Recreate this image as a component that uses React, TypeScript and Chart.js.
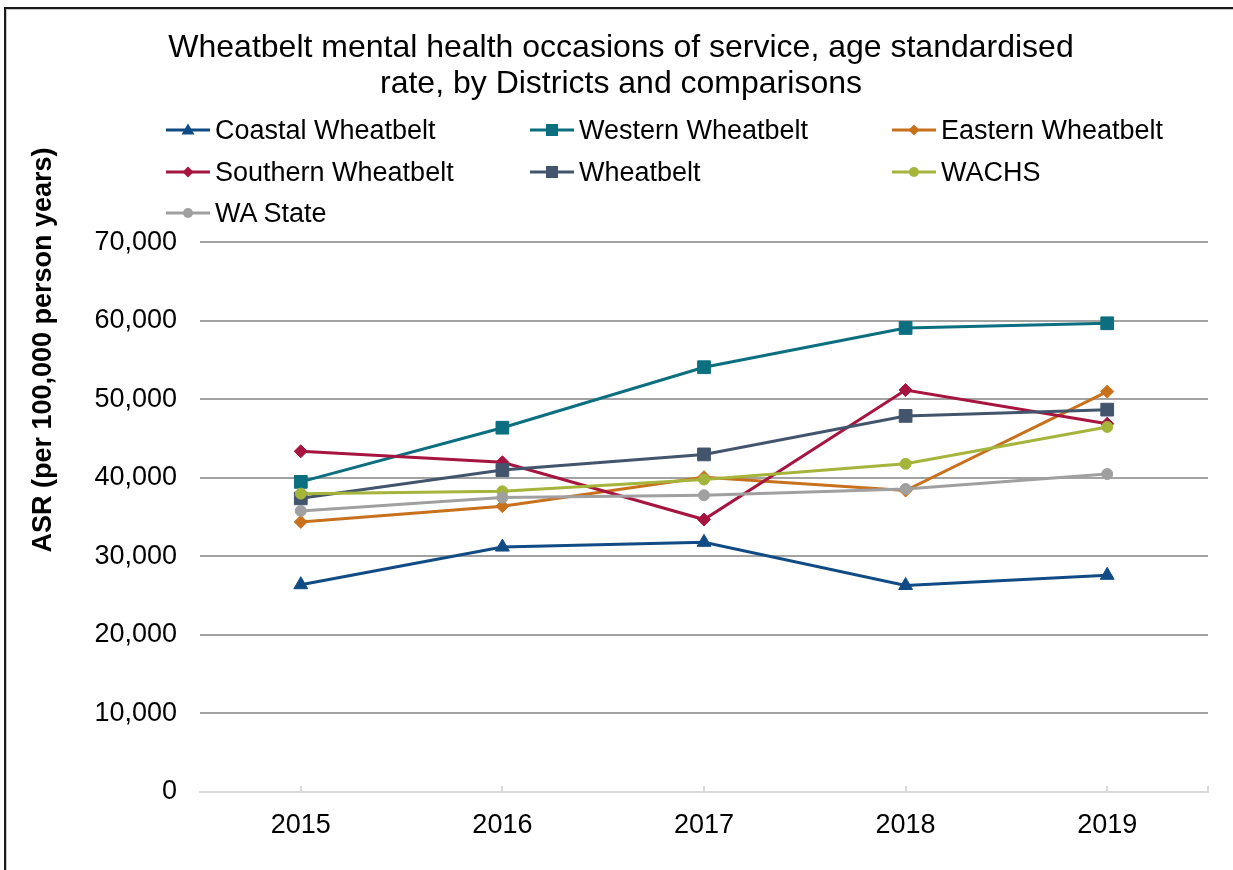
import React, { useEffect, useRef } from "react";
import { Chart, registerables } from "chart.js";

Chart.register(...registerables);

const FONT = "'Liberation Sans', Arial, sans-serif";

const titleLines = [
  "Wheatbelt mental health occasions of service, age standardised",
  "rate, by Districts and comparisons",
];
const yAxisTitle = "ASR (per 100,000 person years)";

const years = ["2015", "2016", "2017", "2018", "2019"];

const coastal = [26400, 31200, 31800, 26300, 27600];
const western = [39500, 46400, 54100, 59100, 59700];
const eastern = [34400, 36400, 40100, 38400, 51000];
const southern = [43400, 42000, 34700, 51200, 46900];
const wheatbelt = [37400, 41000, 43000, 47900, 48700];
const wachs = [38000, 38300, 39800, 41800, 46500];
const waState = [35800, 37500, 37800, 38600, 40500];

const seriesNames = [
  "Coastal Wheatbelt",
  "Western Wheatbelt",
  "Eastern Wheatbelt",
  "Southern Wheatbelt",
  "Wheatbelt",
  "WACHS",
  "WA State",
];
const seriesValues = [coastal, western, eastern, southern, wheatbelt, wachs, waState];
const seriesColors = ["#114b85", "#0b6f80", "#c8701c", "#a6143f", "#43556d", "#a5b43b", "#a0a0a0"];
const seriesMarkers = ["triangle", "rect", "rectRot", "rectRot", "rect", "circle", "circle"];
const markerRadius: Record<string, number> = { triangle: 8, rect: 9, rectRot: 6.5, circle: 5.5 };

const yMin = 0;
const yMax = 70000;
const yStep = 10000;

// legend grid: 3 columns
const legendCols = [166, 530, 892];
const legendRows = [130, 172, 213];

function LegendMarker({ color, marker }: { color: string; marker: string }) {
  const cx = 22;
  const cy = 10;
  let shape: React.ReactNode = null;
  if (marker === "triangle") {
    shape = <polygon points={`${cx},${cy - 6.5} ${cx + 6.5},${cy + 4.5} ${cx - 6.5},${cy + 4.5}`} fill={color} />;
  } else if (marker === "rect") {
    shape = <rect x={cx - 6} y={cy - 6} width={12} height={12} fill={color} />;
  } else if (marker === "rectRot") {
    shape = <polygon points={`${cx},${cy - 5.5} ${cx + 5.5},${cy} ${cx},${cy + 5.5} ${cx - 5.5},${cy}`} fill={color} />;
  } else {
    shape = <circle cx={cx} cy={cy} r={5} fill={color} />;
  }
  return (
    <svg width={44} height={20} style={{ display: "block" }}>
      <line x1={0} y1={cy} x2={44} y2={cy} stroke={color} strokeWidth={3} />
      {shape}
    </svg>
  );
}

const tickMarksPlugin = {
  id: "insideTicks",
  afterDraw(chart: any) {
    const xs = chart.scales.x;
    const ctx = chart.ctx;
    const bottom = chart.chartArea.bottom;
    ctx.save();
    ctx.strokeStyle = "#d9d9d9";
    ctx.lineWidth = 2;
    const positions: number[] = [];
    for (let i = 0; i < xs.ticks.length; i++) positions.push(xs.getPixelForTick(i));
    positions.push(chart.chartArea.right);
    for (const p of positions) {
      ctx.beginPath();
      ctx.moveTo(Math.round(p), bottom - 6);
      ctx.lineTo(Math.round(p), bottom);
      ctx.stroke();
    }
    ctx.restore();
  },
};

export default function App() {
  const canvasRef = useRef<HTMLCanvasElement | null>(null);

  useEffect(() => {
    document.body.style.margin = "0";
    const canvas = canvasRef.current;
    if (!canvas) return;
    const chart = new Chart(canvas, {
      type: "line",
      data: {
        labels: years,
        datasets: seriesNames.map((name, i) => ({
          label: name,
          data: seriesValues[i],
          borderColor: seriesColors[i],
          backgroundColor: seriesColors[i],
          pointBackgroundColor: seriesColors[i],
          pointBorderColor: seriesColors[i],
          pointBorderWidth: 1,
          pointStyle: seriesMarkers[i] as any,
          pointRadius: markerRadius[seriesMarkers[i]],
          borderWidth: 3,
          tension: 0,
          fill: false,
          order: -i,
        })),
      },
      options: {
        responsive: false,
        animation: false,
        devicePixelRatio: 1,
        layout: { padding: { left: 34, right: 25, top: 0, bottom: 0 } },
        plugins: {
          legend: { display: false },
          tooltip: { enabled: false },
          title: {
            display: true,
            text: titleLines,
            color: "#000",
            font: { family: FONT, size: 32, weight: "normal", lineHeight: 1.1 },
            padding: { top: 31, bottom: 141 },
          },
        },
        scales: {
          x: {
            type: "category",
            offset: true,
            grid: { display: false, drawTicks: false, offset: false },
            border: { display: true, color: "#d9d9d9", width: 2 },
            ticks: { color: "#000", font: { family: FONT, size: 27 }, padding: 17 },
            afterFit: (s: any) => {
              s.height = 78;
            },
          },
          y: {
            min: yMin,
            max: yMax,
            border: { display: false },
            grid: {
              color: (ctx: any) => (ctx.tick && ctx.tick.value === 0 ? "rgba(0,0,0,0)" : "#a3a3a3"),
              lineWidth: 2,
              drawTicks: false,
            },
            ticks: {
              stepSize: yStep,
              color: "#000",
              font: { family: FONT, size: 27 },
              padding: 23,
              callback: (v: any) => Number(v).toLocaleString("en-US"),
            },
            afterFit: (s: any) => {
              s.width = 166;
            },
          },
        },
      },
      plugins: [tickMarksPlugin],
    });
    return () => chart.destroy();
  }, []);

  return (
    <div style={{ position: "absolute", left: 0, top: 0, width: 1233, height: 870, overflow: "hidden", background: "#fff" }}>
      <canvas ref={canvasRef} width={1233} height={870} style={{ position: "absolute", left: 0, top: 0 }} />
      <div
        style={{
          position: "absolute",
          left: 4,
          top: 7,
          width: 1300,
          height: 900,
          borderLeft: "2px solid #1a1a1a",
          borderTop: "2px solid #1a1a1a",
          pointerEvents: "none",
        }}
      />
      <div
        style={{
          position: "absolute",
          left: 6,
          top: 9,
          width: 1300,
          height: 900,
          borderLeft: "1px solid #c8c8c8",
          borderTop: "1px solid #c8c8c8",
          pointerEvents: "none",
        }}
      />
      <div
        style={{
          position: "absolute",
          left: 42,
          top: 350,
          transform: "translate(-50%, -50%) rotate(-90deg)",
          whiteSpace: "nowrap",
          fontFamily: FONT,
          fontWeight: "bold",
          fontSize: 27,
          color: "#000",
        }}
      >
        {yAxisTitle}
      </div>
      {seriesNames.map((name, i) => (
        <div
          key={name}
          style={{
            position: "absolute",
            left: legendCols[i % 3],
            top: legendRows[Math.floor(i / 3)] - 16,
            height: 32,
            display: "flex",
            alignItems: "center",
            whiteSpace: "nowrap",
            fontFamily: FONT,
            fontSize: 27,
            color: "#000",
          }}
        >
          <LegendMarker color={seriesColors[i]} marker={seriesMarkers[i]} />
          <span style={{ marginLeft: 5 }}>{name}</span>
        </div>
      ))}
    </div>
  );
}
